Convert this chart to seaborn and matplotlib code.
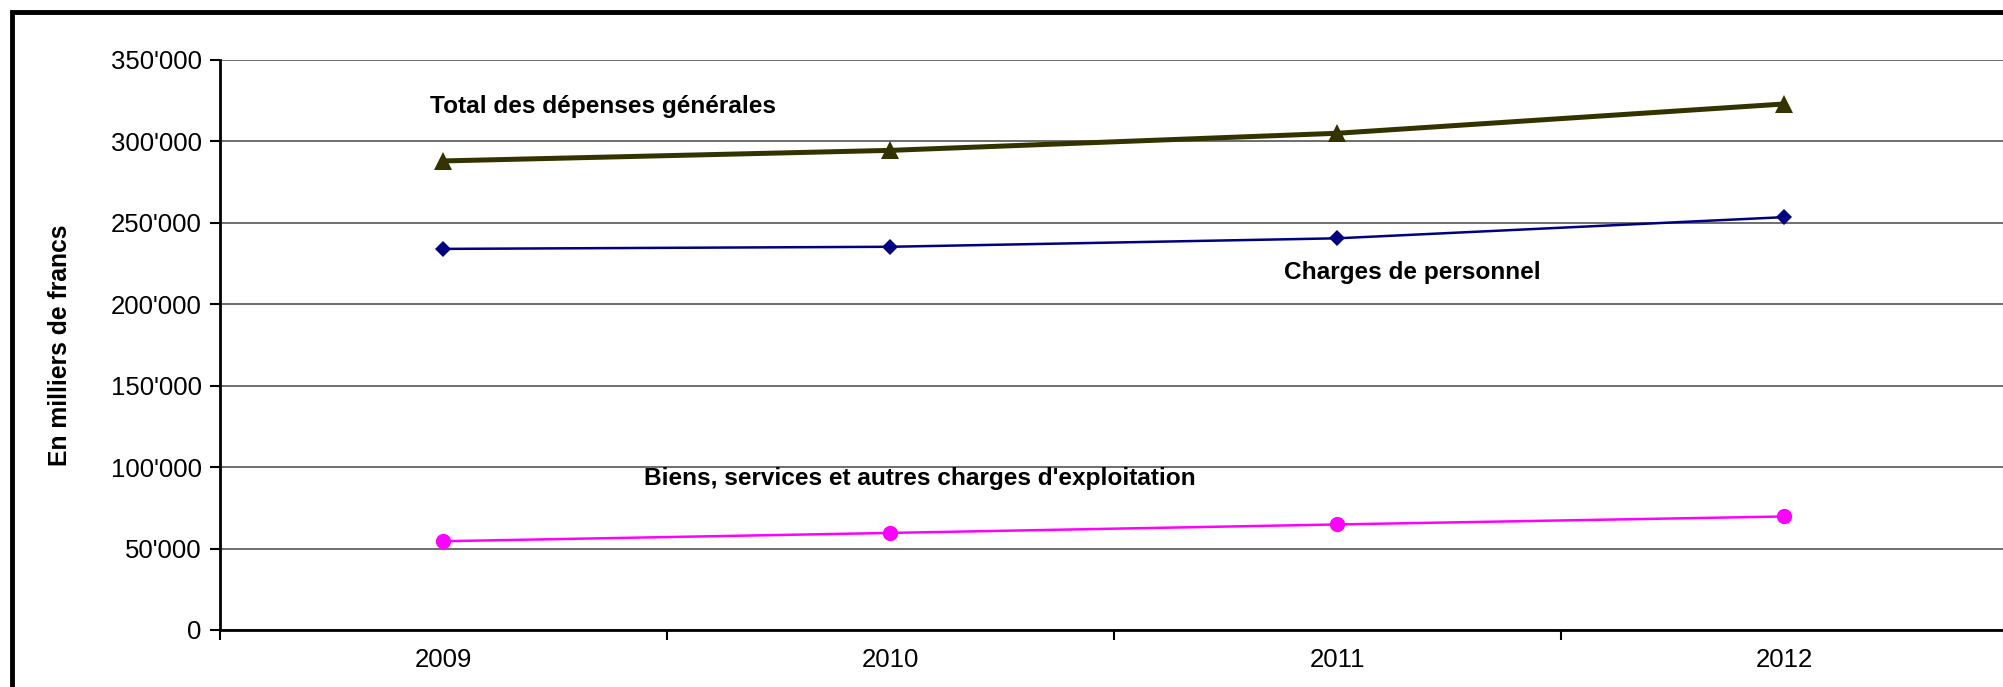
import numpy as np
import pandas as pd
import seaborn as sns
import matplotlib.pyplot as plt
from matplotlib.patches import Rectangle
from matplotlib.ticker import FuncFormatter, FixedLocator

# données (en milliers de francs)
annees = ["2009", "2010", "2011", "2012"]
total = [288000, 294500, 305000, 323000]
personnel = [234000, 235300, 240500, 253500]
biens = [54500, 59600, 64800, 69700]

sns.set_style("white")
plt.rcParams["font.family"] = ["Liberation Sans", "DejaVu Sans"]
plt.rcParams["text.color"] = "black"
plt.rcParams["axes.labelcolor"] = "black"
plt.rcParams["xtick.color"] = "black"
plt.rcParams["ytick.color"] = "black"

fig = plt.figure(figsize=(20.03, 6.87), dpi=100)
ax = fig.add_axes([0.1097, 0.083, 0.8928, 0.8297])

df = pd.DataFrame({"x": np.arange(len(annees)), "total": total,
                   "personnel": personnel, "biens": biens})

sns.lineplot(data=df, x="x", y="total", ax=ax, color="#333300", lw=3.6,
             marker="^", markersize=13, markeredgewidth=0, zorder=5)
sns.lineplot(data=df, x="x", y="personnel", ax=ax, color="#000080", lw=1.8,
             marker="D", markersize=8, markeredgewidth=0, zorder=5)
sns.lineplot(data=df, x="x", y="biens", ax=ax, color="#FF00FF", lw=1.8,
             marker="o", markersize=11, markeredgewidth=0, zorder=5)

ax.set_xlim(-0.5, len(annees) - 0.5)
ax.set_ylim(0, 350000)
ax.set_yticks(np.arange(0, 350001, 50000))
ax.yaxis.set_major_formatter(FuncFormatter(lambda v, p: "0" if v == 0 else f"{int(v):,}".replace(",", "'")))
ax.grid(axis="y", color="#555555", lw=1.2)
ax.set_axisbelow(True)

# graduations x entre catégories, étiquettes au centre
ax.xaxis.set_major_locator(FixedLocator(np.arange(-0.5, len(annees), 1)))
ax.xaxis.set_major_formatter(FuncFormatter(lambda v, p: ""))
ax.xaxis.set_minor_locator(FixedLocator(np.arange(len(annees))))
ax.set_xticklabels(annees, minor=True)
ax.tick_params(axis="x", which="major", direction="out", length=7, width=1.5, color="black", bottom=True)
ax.tick_params(axis="x", which="minor", length=0, labelsize=18.5, pad=13)
ax.tick_params(axis="y", direction="out", length=7, width=1.5, color="black", left=True, labelsize=18.5, pad=6)

for s in ["top", "right"]:
    ax.spines[s].set_visible(False)
for s in ["left", "bottom"]:
    ax.spines[s].set_color("black")
    ax.spines[s].set_linewidth(2)

ax.set_xlabel("")
ax.set_ylabel("En milliers de francs", fontsize=17.8, fontweight="bold", labelpad=28)

ax.text(-0.03, 321300, "Total des dépenses générales", fontsize=17.6, fontweight="bold", va="center")
ax.text(1.88, 219500, "Charges de personnel", fontsize=17.6, fontweight="bold", va="center")
ax.text(0.45, 93000, "Biens, services et autres charges d'exploitation", fontsize=17.6, fontweight="bold", va="center")

# cadre du graphique
fig.patches.append(Rectangle((12 / 2003, -0.1), 1.1, 1.1 - 12 / 687, transform=fig.transFigure,
                             fill=False, edgecolor="black", lw=3.5))

fig.savefig("out.png", dpi=100)
